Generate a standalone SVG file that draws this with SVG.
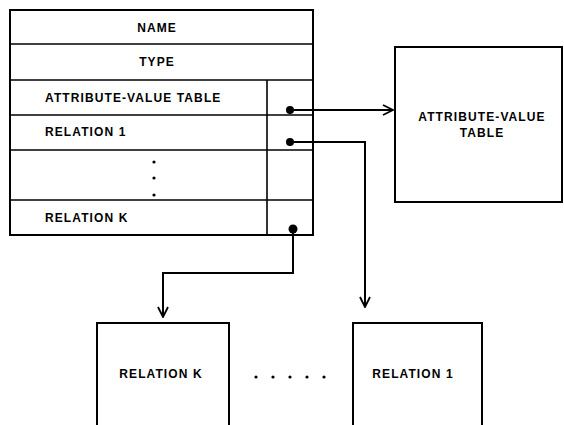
<svg xmlns="http://www.w3.org/2000/svg" width="564" height="425" viewBox="0 0 564 425">
<style>
.box{fill:none;stroke:#000;stroke-width:2}
.ln{fill:none;stroke:#000;stroke-width:1.6}
.t{font-family:"Liberation Sans",Arial,sans-serif;font-weight:bold;font-size:12px;letter-spacing:1.1px;fill:#000}
.c{text-anchor:middle}
.con{fill:none;stroke:#000;stroke-width:2}
</style>
<defs>
<marker id="arr" viewBox="0 0 12 12" refX="11" refY="6" markerWidth="12" markerHeight="12" markerUnits="userSpaceOnUse" orient="auto">
<path d="M1,1 L11,6 L1,11" fill="none" stroke="#000" stroke-width="1.8"/>
</marker>
</defs>
<rect width="564" height="425" fill="#fff"/>
<g id="record">
<rect class="box" x="10" y="10" width="303" height="225"/>
<line class="ln" x1="10" y1="44" x2="313" y2="44"/>
<line class="ln" x1="10" y1="80" x2="313" y2="80"/>
<line class="ln" x1="10" y1="115" x2="313" y2="115"/>
<line class="ln" x1="10" y1="150" x2="313" y2="150"/>
<line class="ln" x1="10" y1="200" x2="313" y2="200"/>
<line class="ln" x1="267" y1="80" x2="267" y2="235"/>
<text class="t c" x="157" y="32">NAME</text>
<text class="t c" x="157" y="66">TYPE</text>
<text class="t" x="45" y="102">ATTRIBUTE-VALUE TABLE</text>
<text class="t" x="45" y="136">RELATION 1</text>
<circle cx="154" cy="162" r="1.6"/>
<circle cx="154" cy="178" r="1.6"/>
<circle cx="154" cy="195" r="1.6"/>
<text class="t" x="45" y="222">RELATION K</text>
</g>
<g id="avtable">
<rect class="box" x="395" y="47" width="167" height="155"/>
<text class="t c" x="482" y="121">ATTRIBUTE-VALUE</text>
<text class="t c" x="482" y="137">TABLE</text>
</g>
<g id="relk">
<rect class="box" x="97" y="323" width="132" height="110"/>
<text class="t c" x="161" y="378">RELATION K</text>
</g>
<g id="dots">
<circle cx="256" cy="377" r="1.6"/>
<circle cx="273" cy="377" r="1.6"/>
<circle cx="290" cy="377" r="1.6"/>
<circle cx="307" cy="377" r="1.6"/>
<circle cx="324" cy="377" r="1.6"/>
</g>
<g id="rel1">
<rect class="box" x="353" y="323" width="129" height="110"/>
<text class="t c" x="413" y="378">RELATION 1</text>
</g>
<g id="connectors">
<circle cx="290" cy="110" r="4"/>
<circle cx="290" cy="142" r="4"/>
<circle cx="293" cy="229" r="4.5"/>
<path class="con" d="M290,110 H393" marker-end="url(#arr)"/>
<path class="con" d="M290,142 H365 V307" marker-end="url(#arr)"/>
<path class="con" d="M293,229 V273 H163 V317" marker-end="url(#arr)"/>
</g>
</svg>
